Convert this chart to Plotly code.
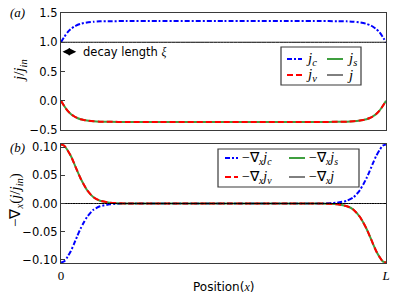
import plotly.graph_objects as go

# ---- data (x as fraction of L) ----
xs = [0, 0.01, 0.02, 0.03, 0.04, 0.05, 0.06, 0.07, 0.08, 0.10, 0.12, 0.15, 0.20, 0.30,
      0.50, 0.70, 0.80, 0.85, 0.88, 0.90, 0.92, 0.93, 0.94, 0.95, 0.96, 0.97, 0.98, 0.99, 1.0]

j_c = [1.00, 1.09, 1.17, 1.225, 1.265, 1.295, 1.315, 1.328, 1.338, 1.350, 1.357, 1.360, 1.362, 1.362,
       1.362, 1.362, 1.362, 1.360, 1.357, 1.350, 1.338, 1.328, 1.315, 1.295, 1.265, 1.225, 1.17, 1.09, 1.00]
j_v = [0.0, -0.09, -0.17, -0.225, -0.265, -0.295, -0.315, -0.328, -0.338, -0.350, -0.357, -0.360, -0.362, -0.362,
       -0.362, -0.362, -0.362, -0.360, -0.357, -0.350, -0.338, -0.328, -0.315, -0.295, -0.265, -0.225, -0.17, -0.09, 0.0]
j_s = [0.0, -0.09, -0.17, -0.225, -0.265, -0.295, -0.315, -0.328, -0.338, -0.350, -0.357, -0.360, -0.362, -0.362,
       -0.362, -0.362, -0.362, -0.360, -0.357, -0.350, -0.338, -0.328, -0.315, -0.295, -0.265, -0.225, -0.17, -0.09, 0.0]
j_tot = [1.0, 1.0, 1.0, 1.0, 1.0, 1.0, 1.0, 1.0, 1.0, 1.0, 1.0, 1.0, 1.0, 1.0,
         1.0, 1.0, 1.0, 1.0, 1.0, 1.0, 1.0, 1.0, 1.0, 1.0, 1.0, 1.0, 1.0, 1.0, 1.0]

g_c = [-0.105, -0.103, -0.095, -0.085, -0.072, -0.058, -0.045, -0.034, -0.024, -0.011, -0.005, -0.0015, 0.0, 0.0,
       0.0, 0.0, 0.0, 0.0015, 0.005, 0.011, 0.024, 0.034, 0.045, 0.058, 0.072, 0.085, 0.095, 0.103, 0.105]
g_v = [0.105, 0.103, 0.095, 0.085, 0.072, 0.058, 0.045, 0.034, 0.024, 0.011, 0.005, 0.0015, 0.0, 0.0,
       0.0, 0.0, 0.0, -0.0015, -0.005, -0.011, -0.024, -0.034, -0.045, -0.058, -0.072, -0.085, -0.095, -0.103, -0.105]
g_s = [0.105, 0.103, 0.095, 0.085, 0.072, 0.058, 0.045, 0.034, 0.024, 0.011, 0.005, 0.0015, 0.0, 0.0,
       0.0, 0.0, 0.0, -0.0015, -0.005, -0.011, -0.024, -0.034, -0.045, -0.058, -0.072, -0.085, -0.095, -0.103, -0.105]
g_tot = [0.0, 0.0, 0.0, 0.0, 0.0, 0.0, 0.0, 0.0, 0.0, 0.0, 0.0, 0.0, 0.0, 0.0,
         0.0, 0.0, 0.0, 0.0, 0.0, 0.0, 0.0, 0.0, 0.0, 0.0, 0.0, 0.0, 0.0, 0.0, 0.0]

top_ticks = [-0.5, 0.0, 0.5, 1.0, 1.5]
bot_ticks = [-0.10, -0.05, 0.0, 0.05, 0.10]
x_tickvals = [0, 1]
x_ticktext = ["0", "<i>L</i>"]

top_names = ["<i>j</i><sub><i>c</i></sub>", "<i>j</i><sub><i>v</i></sub>",
             "<i>j</i><sub><i>s</i></sub>", "<i>j</i>"]
bot_names = ["−∇<sub><i>x</i></sub><i>j</i><sub><i>c</i></sub>",
             "−∇<sub><i>x</i></sub><i>j</i><sub><i>v</i></sub>",
             "−∇<sub><i>x</i></sub><i>j</i><sub><i>s</i></sub>",
             "−∇<sub><i>x</i></sub><i>j</i>"]

# ---- styles ----
BLUE, RED, GREEN, BLACK = "#0000ff", "#ff0000", "#3f9f3f", "#000000"
DASHDOT = "5px,2px,2px,2px"
DASH = "6px,3px"
SANS = "DejaVu Sans"
SERIF = "Liberation Serif"
FRAME = "#3a3a3a"

ML, MR, MT, MB = 61, 9, 13, 35
W, H = 395, 298
PW, PH = W - ML - MR, H - MT - MB


def px_x(p):
    return (p - ML) / PW


def px_y(p):
    return (H - MB - p) / PH


fig = go.Figure()


def add(x, y, color, dash, width, xa, ya, name):
    fig.add_trace(go.Scatter(x=x, y=y, mode="lines", name=name, showlegend=False,
                             line=dict(color=color, dash=dash, width=width, shape="spline", smoothing=0.6),
                             xaxis=xa, yaxis=ya))


# top panel
add(xs, j_c, BLUE, DASHDOT, 2, "x", "y", "j_c")
add(xs, j_s, GREEN, "solid", 2, "x", "y", "j_s")
add(xs, j_v, RED, DASH, 2, "x", "y", "j_v")
add(xs, j_tot, BLACK, "solid", 1, "x", "y", "j")
# bottom panel
add(xs, g_c, BLUE, DASHDOT, 2, "x2", "y2", "-grad j_c")
add(xs, g_s, GREEN, "solid", 2, "x2", "y2", "-grad j_s")
add(xs, g_v, RED, DASH, 2, "x2", "y2", "-grad j_v")
add(xs, g_tot, BLACK, "solid", 1, "x2", "y2", "-grad j")

axis_common = dict(showline=True, mirror=True, linecolor=FRAME, linewidth=1.3,
                   showgrid=False, zeroline=False, automargin=False)

shapes = []
annotations = []


def text(xp, yp, s, family, size, angle=0, xanchor="center"):
    annotations.append(dict(xref="paper", yref="paper", x=px_x(xp), y=px_y(yp), text=s,
                            showarrow=False, xanchor=xanchor, yanchor="middle", textangle=angle,
                            font=dict(family=family, size=size, color="black")))


def legend(box, col_x, row_y, names, styles, size):
    x0, x1, y0, y1 = box
    shapes.append(dict(type="rect", xref="paper", yref="paper",
                       x0=px_x(x0), x1=px_x(x1), y0=px_y(y1), y1=px_y(y0),
                       line=dict(color=FRAME, width=1.2), fillcolor="white", layer="above"))
    k = 0
    for (sx0, sx1, tx) in col_x:
        for ry in row_y:
            color, dash, width = styles[k]
            shapes.append(dict(type="line", xref="paper", yref="paper",
                               x0=px_x(sx0), x1=px_x(sx1), y0=px_y(ry), y1=px_y(ry),
                               line=dict(color=color, dash=dash, width=width), layer="above"))
            text(tx, ry, names[k], SERIF, size, xanchor="left")
            k += 1


styles = [(BLUE, DASHDOT, 2), (RED, DASH, 2), (GREEN, "solid", 2), (BLACK, "solid", 1)]
legend((281, 361, 47, 85), [(287, 302, 304), (327, 343, 345)], [59, 75],
       top_names, styles, 15)
legend((218, 359, 149, 187), [(225, 238, 240), (289, 305, 307)], [158, 177],
       bot_names, styles, 14)

# panel labels
text(17, 12, "<i>(a)</i>", SERIF, 13)
text(17, 147, "<i>(b)</i>", SERIF, 13)
# y titles
text(20, 71, "<i>j</i>/<i>j</i><sub><i>in</i></sub>", SERIF, 15, angle=-90)
text(16, 200, "−∇<sub><i>x</i></sub>(<i>j</i>/<i>j</i><sub><i>in</i></sub>)", SERIF, 15, angle=-90)
# x title
text(224, 287, "Position(<span style='font-family:Liberation Serif'><i>x</i></span>)", SANS, 12)

# decay length arrow
annotations.append(dict(xref="x", yref="y", x=0.047, y=0.836, ax=0.0, ay=0.836,
                        axref="x", ayref="y", text="", showarrow=True,
                        arrowhead=2, startarrowhead=2, arrowside="end+start",
                        arrowsize=1, arrowwidth=1.5, arrowcolor="black", standoff=0, startstandoff=0))
annotations.append(dict(xref="x", yref="y", x=0.06, y=0.836,
                        text="decay length <span style='font-family:Liberation Serif'><i>ξ</i></span>",
                        showarrow=False, xanchor="left", yanchor="middle",
                        font=dict(family=SANS, size=11.5, color="black")))

fig.update_layout(
    width=W, height=H, autosize=False,
    margin=dict(l=ML, r=MR, t=MT, b=MB, pad=0),
    paper_bgcolor="white", plot_bgcolor="white",
    showlegend=False,
    font=dict(family=SANS, size=11.5, color="black"),
    xaxis=dict(domain=[0, 1], range=[0, 1], anchor="y", tickvals=x_tickvals, showticklabels=False,
               ticks="", **axis_common),
    yaxis=dict(domain=[px_y(130), 1], range=[-0.5, 1.5], anchor="x", tickvals=top_ticks,
               tickformat=".1f", ticks="inside", ticklen=4, tickcolor=FRAME,
               tickfont=dict(family=SANS, size=11.5, color="black"), **axis_common),
    xaxis2=dict(domain=[0, 1], range=[0, 1], anchor="y2", tickvals=x_tickvals, ticktext=x_ticktext,
                ticks="", tickfont=dict(family=SERIF, size=13, color="black"), **axis_common),
    yaxis2=dict(domain=[0, px_y(144)], range=[-0.106, 0.106], anchor="x2", tickvals=bot_ticks,
                tickformat=".2f", ticks="inside", ticklen=4, tickcolor=FRAME,
                tickfont=dict(family=SANS, size=11.5, color="black"), **axis_common),
    shapes=shapes,
    annotations=annotations,
)

fig.write_html("out.html", config={"displayModeBar": False},
               post_script="document.body.style.margin='0';document.body.style.padding='0';")
